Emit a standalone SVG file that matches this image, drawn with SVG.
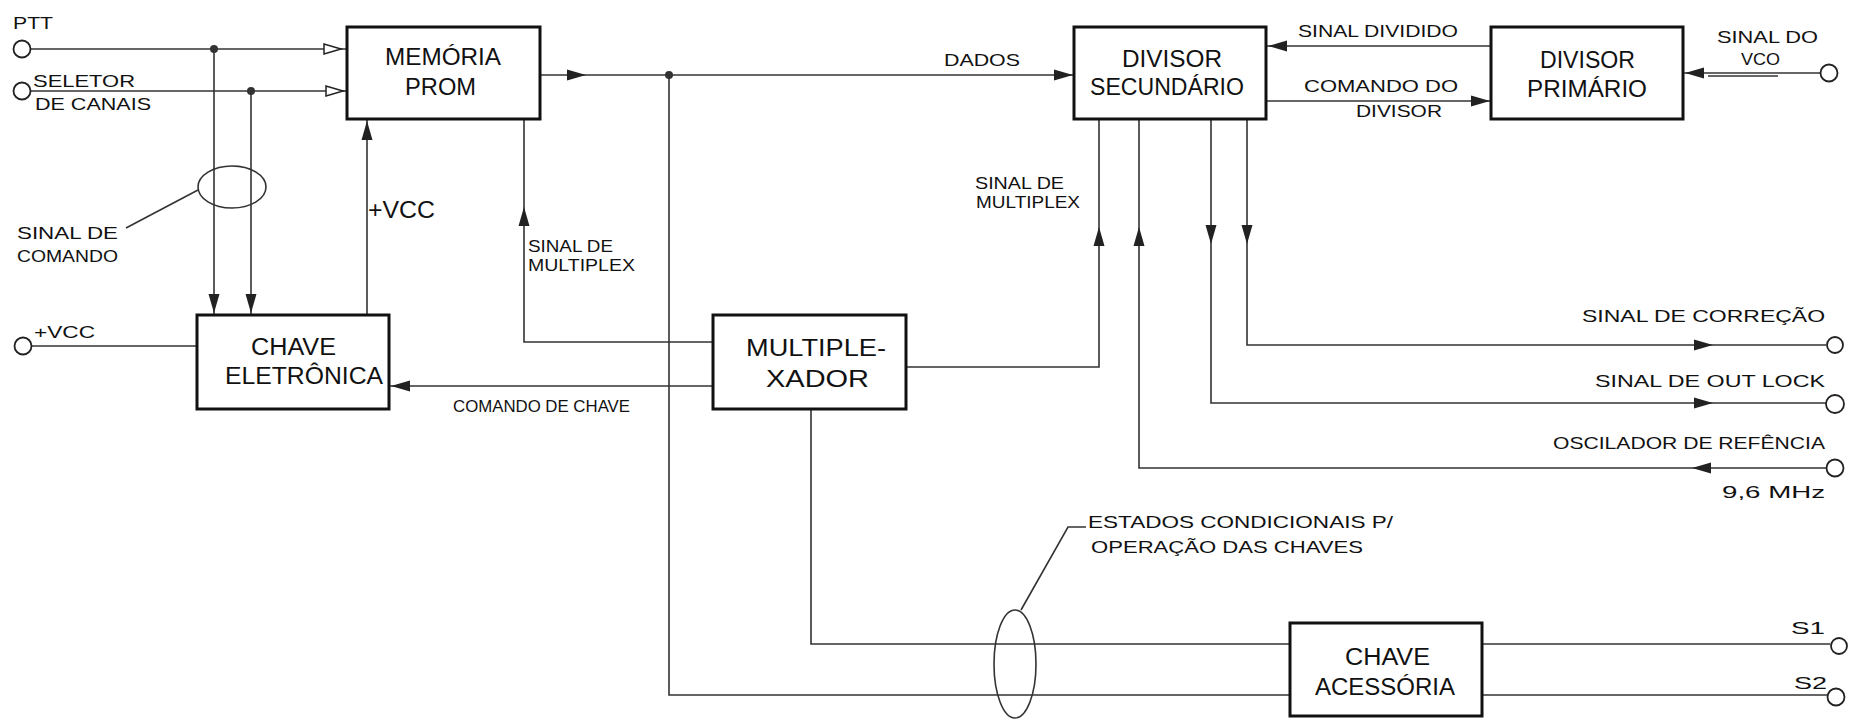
<svg xmlns="http://www.w3.org/2000/svg" xmlns:xlink="http://www.w3.org/1999/xlink" width="1864" height="723" viewBox="0 0 1864 723">
<style>
.box{fill:#fff;stroke:#111;stroke-width:3}
.bt{font-family:"Liberation Sans",Arial,sans-serif;font-size:23px;fill:#111}
.lt{font-family:"Liberation Sans",Arial,sans-serif;font-size:17px;fill:#111}
.ln{fill:none;stroke:#333;stroke-width:1.6}
.term{fill:#fff;stroke:#222;stroke-width:1.8}
.ah{fill:#222}
.oh{fill:#fff;stroke:#222;stroke-width:1.5}
</style>
<defs>
<path id="a" d="M0,0 L-19,-5.5 L-19,5.5 Z"/>
<path id="o" d="M0,0 L-17,-5 L-17,5 Z"/>
</defs>
<rect width="1864" height="723" fill="#fff"/>

<g id="connectors">
<!-- PTT -->
<line class="ln" x1="31" y1="49" x2="347" y2="49"/>
<circle cx="214" cy="49" r="4" fill="#333"/>
<use href="#o" class="oh" transform="translate(341,49)"/>
<!-- Seletor -->
<line class="ln" x1="31" y1="91" x2="347" y2="91"/>
<circle cx="251" cy="91" r="4" fill="#333"/>
<use href="#o" class="oh" transform="translate(343,91)"/>
<!-- down to chave -->
<line class="ln" x1="214" y1="49" x2="214" y2="315"/>
<use href="#a" class="ah" transform="translate(214,313) rotate(90)"/>
<line class="ln" x1="251" y1="91" x2="251" y2="315"/>
<use href="#a" class="ah" transform="translate(251,313) rotate(90)"/>
<!-- +VCC left -->
<line class="ln" x1="32" y1="346" x2="197" y2="346"/>
<!-- +VCC up -->
<line class="ln" x1="367" y1="315" x2="367" y2="119"/>
<use href="#a" class="ah" transform="translate(367,121) rotate(-90)"/>
<!-- dados -->
<line class="ln" x1="540" y1="75" x2="1074" y2="75"/>
<use href="#a" class="ah" transform="translate(586,75)"/>
<use href="#a" class="ah" transform="translate(1073,75)"/>
<circle cx="669" cy="75" r="4" fill="#333"/>
<polyline class="ln" points="669,75 669,695 1290,695"/>
<!-- sinal de multiplex left -->
<polyline class="ln" points="524,119 524,342 713,342"/>
<use href="#a" class="ah" transform="translate(524,207) rotate(-90)"/>
<!-- comando de chave -->
<line class="ln" x1="713" y1="386" x2="389" y2="386"/>
<use href="#a" class="ah" transform="translate(391,386) rotate(180)"/>
<!-- mux right to div sec -->
<polyline class="ln" points="906,367 1099,367 1099,119"/>
<use href="#a" class="ah" transform="translate(1099,227) rotate(-90)"/>
<!-- mux bottom to chave acessoria -->
<polyline class="ln" points="811,409 811,644 1290,644"/>
<!-- oscilador -->
<polyline class="ln" points="1826,468 1139,468 1139,119"/>
<use href="#a" class="ah" transform="translate(1139,227) rotate(-90)"/>
<use href="#a" class="ah" transform="translate(1692,468) rotate(180)"/>
<!-- out lock -->
<polyline class="ln" points="1211,119 1211,403 1826,403"/>
<use href="#a" class="ah" transform="translate(1211,244) rotate(90)"/>
<use href="#a" class="ah" transform="translate(1713,403)"/>
<!-- correcao -->
<polyline class="ln" points="1247,119 1247,345 1826,345"/>
<use href="#a" class="ah" transform="translate(1247,244) rotate(90)"/>
<use href="#a" class="ah" transform="translate(1713,345)"/>
<!-- sinal dividido -->
<line class="ln" x1="1491" y1="46" x2="1266" y2="46"/>
<use href="#a" class="ah" transform="translate(1268,46) rotate(180)"/>
<!-- comando do divisor -->
<line class="ln" x1="1266" y1="101" x2="1491" y2="101"/>
<use href="#a" class="ah" transform="translate(1490,101)"/>
<!-- VCO -->
<line class="ln" x1="1820" y1="73" x2="1683" y2="73"/>
<line class="ln" x1="1708" y1="76" x2="1778" y2="76"/>
<use href="#a" class="ah" transform="translate(1685,73) rotate(180)"/>
<!-- S1 S2 -->
<line class="ln" x1="1482" y1="644" x2="1830" y2="644"/>
<line class="ln" x1="1482" y1="695" x2="1828" y2="695"/>
<!-- terminals -->
<circle class="term" cx="22" cy="49" r="8.5"/>
<circle class="term" cx="22" cy="91" r="8.5"/>
<circle class="term" cx="23" cy="346" r="8.5"/>
<circle class="term" cx="1829" cy="73" r="8.5"/>
<circle class="term" cx="1835" cy="345" r="8"/>
<circle class="term" cx="1835" cy="404" r="9"/>
<circle class="term" cx="1835" cy="468" r="8.5"/>
<circle class="term" cx="1839" cy="646" r="8"/>
<circle class="term" cx="1836" cy="697" r="8.5"/>
<!-- ellipses and leaders -->
<ellipse class="ln" cx="232" cy="187" rx="34" ry="21"/>
<line class="ln" x1="198" y1="190" x2="126" y2="228"/>
<ellipse class="ln" cx="1015" cy="664" rx="21" ry="54"/>
<polyline class="ln" points="1021,610 1068,527 1086,527"/>
</g>

<g id="memoria">
<rect class="box" x="347" y="27" width="193" height="92"/>
<text class="bt" x="385" y="65" textLength="116" lengthAdjust="spacingAndGlyphs">MEMÓRIA</text>
<text class="bt" x="405" y="95" textLength="71" lengthAdjust="spacingAndGlyphs">PROM</text>
</g>
<g id="chave-eletronica">
<rect class="box" x="197" y="315" width="192" height="94"/>
<text class="bt" x="251" y="355" textLength="85" lengthAdjust="spacingAndGlyphs">CHAVE</text>
<text class="bt" x="225" y="384" textLength="158" lengthAdjust="spacingAndGlyphs">ELETRÔNICA</text>
</g>
<g id="multiplexador">
<rect class="box" x="713" y="315" width="193" height="94"/>
<text class="bt" x="746" y="356" textLength="140" lengthAdjust="spacingAndGlyphs">MULTIPLE-</text>
<text class="bt" x="766" y="387" textLength="103" lengthAdjust="spacingAndGlyphs">XADOR</text>
</g>
<g id="divisor-secundario">
<rect class="box" x="1074" y="27" width="192" height="92"/>
<text class="bt" x="1122" y="67" textLength="100" lengthAdjust="spacingAndGlyphs">DIVISOR</text>
<text class="bt" x="1090" y="95" textLength="154" lengthAdjust="spacingAndGlyphs">SECUNDÁRIO</text>
</g>
<g id="divisor-primario">
<rect class="box" x="1491" y="27" width="192" height="92"/>
<text class="bt" x="1540" y="68" textLength="95" lengthAdjust="spacingAndGlyphs">DIVISOR</text>
<text class="bt" x="1527" y="97" textLength="120" lengthAdjust="spacingAndGlyphs">PRIMÁRIO</text>
</g>
<g id="chave-acessoria">
<rect class="box" x="1290" y="623" width="192" height="93"/>
<text class="bt" x="1345" y="665" textLength="85" lengthAdjust="spacingAndGlyphs">CHAVE</text>
<text class="bt" x="1315" y="695" textLength="140" lengthAdjust="spacingAndGlyphs">ACESSÓRIA</text>
</g>

<g id="labels">
<text class="lt" x="13" y="29" textLength="40" lengthAdjust="spacingAndGlyphs">PTT</text>
<text class="lt" x="33" y="87" textLength="102" lengthAdjust="spacingAndGlyphs">SELETOR</text>
<text class="lt" x="35" y="110" textLength="116" lengthAdjust="spacingAndGlyphs">DE CANAIS</text>
<text class="lt" x="17" y="239" textLength="101" lengthAdjust="spacingAndGlyphs">SINAL DE</text>
<text class="lt" x="17" y="262" textLength="101" lengthAdjust="spacingAndGlyphs">COMANDO</text>
<text class="lt" x="34" y="338" textLength="61" lengthAdjust="spacingAndGlyphs">+VCC</text>
<text class="bt" x="368" y="218" font-size="21" textLength="67" lengthAdjust="spacingAndGlyphs">+VCC</text>
<text class="lt" x="528" y="252" textLength="85" lengthAdjust="spacingAndGlyphs">SINAL DE</text>
<text class="lt" x="528" y="271" textLength="107" lengthAdjust="spacingAndGlyphs">MULTIPLEX</text>
<text class="lt" x="453" y="412" font-size="16" textLength="177" lengthAdjust="spacingAndGlyphs">COMANDO DE CHAVE</text>
<text class="lt" x="944" y="66" textLength="76" lengthAdjust="spacingAndGlyphs">DADOS</text>
<text class="lt" x="975" y="189" font-size="16" textLength="89" lengthAdjust="spacingAndGlyphs">SINAL DE</text>
<text class="lt" x="976" y="208" font-size="16" textLength="104" lengthAdjust="spacingAndGlyphs">MULTIPLEX</text>
<text class="lt" x="1298" y="37" textLength="160" lengthAdjust="spacingAndGlyphs">SINAL DIVIDIDO</text>
<text class="lt" x="1304" y="92" textLength="154" lengthAdjust="spacingAndGlyphs">COMANDO DO</text>
<text class="lt" x="1356" y="117" textLength="86" lengthAdjust="spacingAndGlyphs">DIVISOR</text>
<text class="lt" x="1717" y="43" textLength="101" lengthAdjust="spacingAndGlyphs">SINAL DO</text>
<text class="lt" x="1741" y="65" textLength="39" lengthAdjust="spacingAndGlyphs">VCO</text>
<text class="lt" x="1582" y="322" textLength="243" lengthAdjust="spacingAndGlyphs">SINAL DE CORREÇÃO</text>
<text class="lt" x="1595" y="387" textLength="230" lengthAdjust="spacingAndGlyphs">SINAL DE OUT LOCK</text>
<text class="lt" x="1553" y="449" textLength="272" lengthAdjust="spacingAndGlyphs">OSCILADOR DE REFÊNCIA</text>
<text class="lt" x="1722" y="498" font-size="18" textLength="103" lengthAdjust="spacingAndGlyphs">9,6 MHz</text>
<text class="lt" x="1088" y="528" textLength="305" lengthAdjust="spacingAndGlyphs">ESTADOS CONDICIONAIS P/</text>
<text class="lt" x="1091" y="553" textLength="272" lengthAdjust="spacingAndGlyphs">OPERAÇÃO DAS CHAVES</text>
<text class="lt" x="1791" y="634" font-size="18" textLength="34" lengthAdjust="spacingAndGlyphs">S1</text>
<text class="lt" x="1794" y="689" font-size="18" textLength="33" lengthAdjust="spacingAndGlyphs">S2</text>
</g>
</svg>
